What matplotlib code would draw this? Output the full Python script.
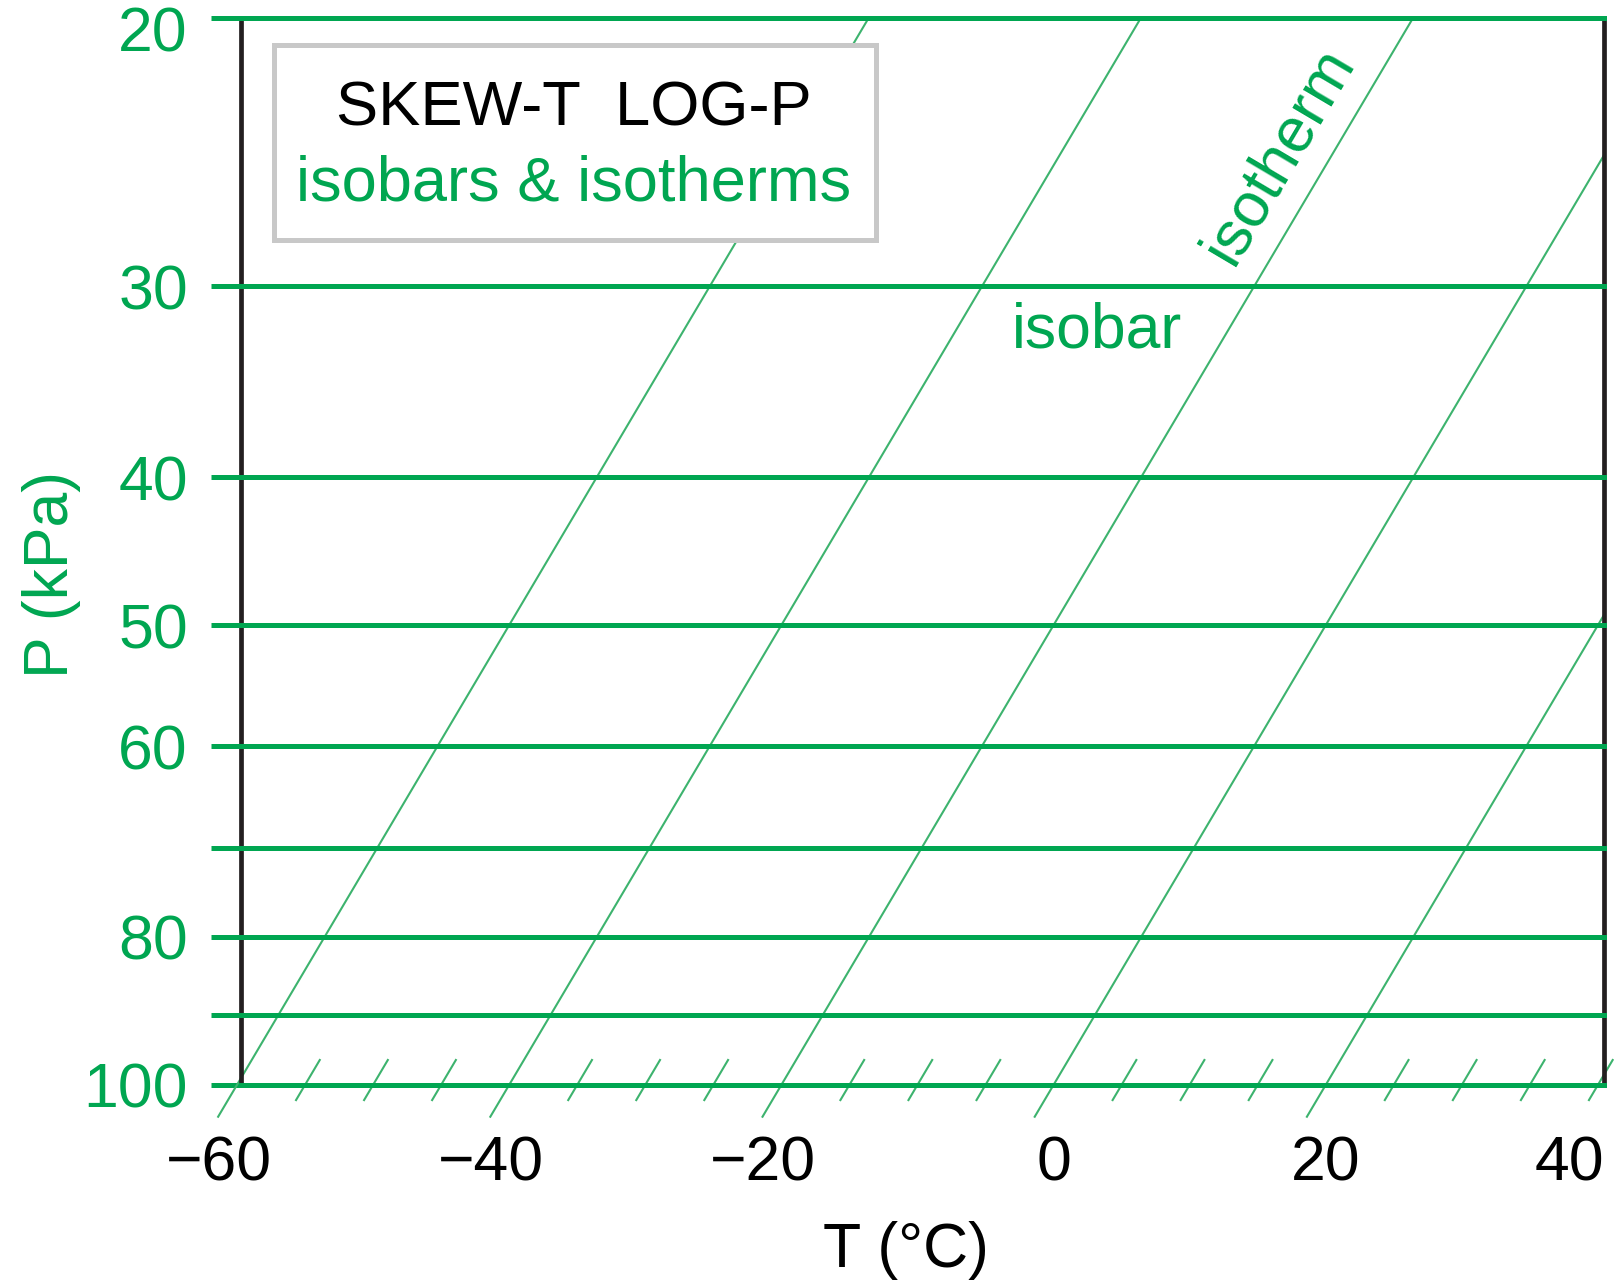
import numpy as np
import matplotlib
matplotlib.use('Agg')
from matplotlib import pyplot as plt
from matplotlib.patches import Rectangle
from matplotlib.transforms import ScaledTranslation, blended_transform_factory

'''skew-T log-P diagram: isobars & isotherms'''

plt.rcParams['font.family'] = ['Liberation Sans', 'DejaVu Sans']

green = '#00a651'
thin_green = '#3db36e'

# data
isobars = [20, 30, 40, 50, 60, 70, 80, 90, 100]
isobar_labels = ['20', '30', '40', '50', '60', '', '80', '', '100']
isotherms = [-60, -40, -20, 0, 20]
temp_ticks = [-60, -40, -20, 0, 20, 40]
temp_labels = ['\u221260', '\u221240', '\u221220', '0', '20', '40']
small_ticks = [-55, -50, -45, -35, -30, -25, -15, -10, -5, 5, 10, 15, 25, 30, 35, 40]

skew = 20 / np.log(2)   # degC shift per ln(100/P)
t_min, t_max = -59.7, 40.45
p_top, p_bot = 20, 100
fs = 45

def skew_x(T, P):
    return T + skew * np.log(100.0 / P)

W, H = 1614, 1283
fig = plt.figure(figsize=(W / 100, H / 100), dpi=100)
ax = fig.add_axes([241 / W, 1 - 1085 / H, 1363 / W, 1067.5 / H])
ax.set_yscale('log')
ax.set_xlim(t_min, t_max)
ax.set_ylim(p_bot, p_top)

for s in ['top', 'bottom']:
    ax.spines[s].set_visible(False)
for s in ['left', 'right']:
    ax.spines[s].set_color('#231f20')
    ax.spines[s].set_linewidth(3.4)

# isobars
for P in isobars:
    ax.axhline(P, color=green, lw=3.6, clip_on=False, zorder=3)
ax.set_yticks(isobars)
ax.yaxis.set_minor_locator(plt.NullLocator())
ax.tick_params(axis='y', which='major', length=21.6, width=3.6, color=green,
               labelleft=False)
ax.set_xticks([])

ylab_tr = blended_transform_factory(ax.transAxes, ax.transData)
for P, lab in zip(isobars, isobar_labels):
    tr = ylab_tr
    if P == p_top:
        tr = ylab_tr + ScaledTranslation(0, -0.105, fig.dpi_scale_trans)
    ax.text(-0.0389, P, lab, transform=tr, ha='right', va='center_baseline',
            fontsize=fs, color=green, clip_on=False)

# isotherms
for T in isotherms:
    p_end = max(p_top, 100.0 * np.exp(-(t_max - T) / skew))
    P = np.geomspace(104.9, p_end, 60)
    ax.plot(skew_x(T, P), P, color=thin_green, lw=1.5, clip_on=False, zorder=2)

for T in small_ticks:
    P = np.array([102.3, 96.3])
    ax.plot(skew_x(T, P), P, color=thin_green, lw=1.5, clip_on=False, zorder=2)

# temperature labels
xlab_tr = blended_transform_factory(ax.transData, ax.transAxes)
minus_shift = ScaledTranslation(-0.584 * fs / 2 / 72, 0, fig.dpi_scale_trans)
for T, lab in zip(temp_ticks, temp_labels):
    tr = xlab_tr
    if lab.startswith('\u2212'):
        tr = xlab_tr + minus_shift
    half = 0.556 * len(lab) * fs / 2 / 72 * 100 / 13.61
    if T + half > t_max:
        ax.text(t_max, -0.089, lab, transform=tr, ha='right', va='baseline',
                fontsize=fs, color='black', clip_on=False)
    else:
        ax.text(T, -0.089, lab, transform=tr, ha='center', va='baseline',
                fontsize=fs, color='black', clip_on=False)

# axis titles
fig.text(906 / W, 1 - 1267 / H, 'T (\u00b0C)', ha='center', va='baseline',
         fontsize=fs, color='black')
fig.text(68 / W, 1 - 574 / H, 'P (kPa)', ha='center', va='baseline',
         rotation=90, rotation_mode='anchor', fontsize=fs, color=green)

# title box
box = Rectangle((273.5 / W, 1 - 239.5 / H), 602 / W, 194 / H,
                transform=fig.transFigure, facecolor='white',
                edgecolor='#c8c8c8', lw=3.6, zorder=1)
fig.add_artist(box)
fig.text(574 / W, 1 - 126 / H, 'SKEW-T  LOG-P', ha='center', va='baseline',
         fontsize=45.5, color='black', zorder=4)
fig.text(574 / W, 1 - 200.5 / H, 'isobars & isotherms', ha='center',
         va='baseline', fontsize=45.5, color=green, zorder=4)

# line labels
fig.text(1097 / W, 1 - 347 / H, 'isobar', ha='center', va='baseline',
         fontsize=fs, color=green)
p1 = ax.transData.transform((skew_x(0, 100), 100))
p2 = ax.transData.transform((skew_x(0, 20), 20))
ang = np.degrees(np.arctan2(p2[1] - p1[1], p2[0] - p1[0]))
fig.text(1279 / W, 1 - 155 / H, 'isotherm', ha='center', va='center',
         rotation=ang, rotation_mode='anchor', fontsize=fs, color=green)

fig.savefig('out.png', dpi=100)
